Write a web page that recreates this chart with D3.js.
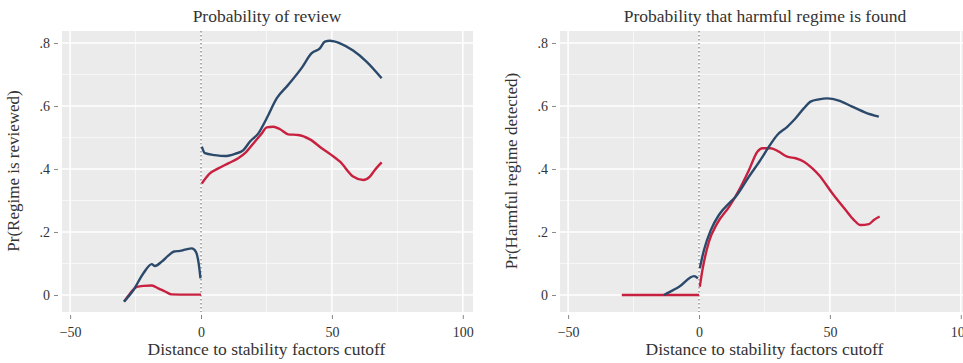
<!DOCTYPE html>
<html>
<head>
<meta charset="utf-8">
<script src="https://cdn.jsdelivr.net/npm/d3@7"></script>
<style>
  body { margin: 0; background: #fff; }
  svg text { font-family: "Liberation Serif", "DejaVu Serif", serif; fill: #333; }
</style>
</head>
<body>
<svg id="chart" width="963" height="363"></svg>
<script>
// panel titles / axis labels
const titles = ["Probability of review", "Probability that harmful regime is found"]
const yTitles = ["Pr(Regime is reviewed)", "Pr(Harmful regime detected)"]
const xTitle = "Distance to stability factors cutoff"
const xTicks = [-50, 0, 50, 100]
const yTicks = [0, .2, .4, .6, .8]

// left panel, blue series (below / above cutoff)
const reviewBluePre = [[-29.4,-0.021],[-25.8,0.016],[-22,0.069],[-18.8,0.098],[-17.6,0.092],[-15,0.106],
  [-12.5,0.125],[-10.3,0.138],[-8,0.14],[-5.7,0.145],[-3.5,0.148],[-2,0.138],[-0.8,0.095],[-0.2,0.053]]
const reviewBluePost = [[0.3,0.471],[1.5,0.45],[5.3,0.444],[9.2,0.441],[13,0.448],[16.2,0.46],[18.7,0.487],
  [21.9,0.513],[25.1,0.561],[28.9,0.624],[33.3,0.667],[38.4,0.72],[42.2,0.767],[45.4,0.783],[47.3,0.804],
  [49.2,0.807],[53.1,0.799],[58.1,0.776],[63.2,0.741],[69,0.688]]
// left panel, red series
const reviewRedPre = [[-29.4,-0.021],[-27.1,0.005],[-24.5,0.026],[-22,0.029],[-18.8,0.03],[-16.3,0.021],
  [-13.7,0.011],[-11.2,0.002],[-5,0.001],[0,0.001]]
const reviewRedPost = [[0.3,0.354],[3.4,0.386],[6.6,0.402],[10.4,0.418],[14.2,0.434],[16.8,0.45],[20,0.481],
  [23.2,0.513],[25.1,0.532],[27.6,0.534],[30.2,0.526],[33.3,0.51],[37.1,0.508],[41.6,0.494],[46.1,0.466],
  [49.9,0.444],[53.1,0.423],[58.1,0.376],[62,0.365],[64.5,0.376],[66.4,0.397],[69,0.421]]

// right panel, blue series
const foundBluePre = [[-13.4,0],[-12.7,0.003],[-7.6,0.026],[-1.9,0.06],[-0.4,0.053]]
const foundBluePost = [[0.3,0.085],[1.9,0.143],[4.5,0.206],[7.6,0.254],[11.5,0.291],[14,0.312],[19.1,0.376],
  [23.5,0.429],[26.7,0.471],[29.9,0.508],[33.7,0.534],[36.9,0.561],[40.1,0.593],[42.6,0.614],[45.8,0.621],
  [49,0.624],[53.4,0.617],[58.5,0.598],[63.6,0.579],[68.7,0.566]]
// right panel, red series
const foundRedPre = [[-29.5,0],[-15,0],[0,0]]
const foundRedPost = [[0.3,0.026],[1.3,0.079],[3.8,0.169],[7,0.228],[11.5,0.28],[15.3,0.333],[19.1,0.397],
  [22.3,0.455],[24.2,0.466],[27.4,0.466],[30.5,0.455],[33.7,0.439],[36.9,0.434],[40.1,0.423],[43.3,0.402],
  [45.8,0.381],[50.9,0.323],[56,0.27],[59.2,0.238],[61.7,0.222],[64.9,0.225],[66.8,0.238],[69,0.249]]

const blue = "#2b4a6b", red = "#c8203f"
const svg = d3.select("#chart")

function panel(offset, idx, blues, reds) {
  const x = d3.scaleLinear().domain([-53.1, 103.9]).range([62 + offset, 473 + offset])
  const y = d3.scaleLinear().domain([-0.054, 0.838]).range([312, 31])
  const g = svg.append("g")

  g.append("rect")
    .attr("x", x.range()[0]).attr("y", 31)
    .attr("width", x.range()[1] - x.range()[0]).attr("height", 281)
    .attr("fill", "#ebebeb")

  // minor grid
  g.selectAll(".gxm").data(d3.range(-25, 101, 50)).join("line")
    .attr("x1", d => x(d)).attr("x2", d => x(d)).attr("y1", 31).attr("y2", 312)
    .attr("stroke", "#fff").attr("stroke-width", 0.8).attr("opacity", 0.8)
  g.selectAll(".gym").data(d3.range(0.1, 0.8, 0.2)).join("line")
    .attr("y1", d => y(d)).attr("y2", d => y(d)).attr("x1", x.range()[0]).attr("x2", x.range()[1])
    .attr("stroke", "#fff").attr("stroke-width", 0.8).attr("opacity", 0.8)
  // major grid
  g.selectAll(".gx").data(xTicks).join("line")
    .attr("x1", d => x(d)).attr("x2", d => x(d)).attr("y1", 31).attr("y2", 312)
    .attr("stroke", "#fff").attr("stroke-width", 1.5)
  g.selectAll(".gy").data(yTicks).join("line")
    .attr("y1", d => y(d)).attr("y2", d => y(d)).attr("x1", x.range()[0]).attr("x2", x.range()[1])
    .attr("stroke", "#fff").attr("stroke-width", 1.5)

  // cutoff line
  g.append("line")
    .attr("x1", x(0)).attr("x2", x(0)).attr("y1", 31).attr("y2", 312)
    .attr("stroke", "#777").attr("stroke-width", 1.2).attr("stroke-dasharray", "1.5,2.5")

  const line = d3.line().x(d => x(d[0])).y(d => y(d[1])).curve(d3.curveMonotoneX)
  reds.concat(blues).forEach((s, i) => {
    g.append("path").datum(s)
      .attr("d", line).attr("fill", "none")
      .attr("stroke", i < reds.length ? red : blue)
      .attr("stroke-width", 2.4).attr("stroke-linejoin", "round")
  })

  const xAxis = d3.axisBottom(x).tickValues(xTicks).tickSize(4).tickPadding(8).tickFormat(d3.format("d"))
  const yAxis = d3.axisLeft(y).tickValues(yTicks).tickSize(4).tickPadding(4)
    .tickFormat(d => d === 0 ? "0" : d3.format(".1f")(d).replace(/^0/, ""))
  const gx = g.append("g").attr("transform", "translate(0,315)").call(xAxis)
  const gy = g.append("g").attr("transform", `translate(${x.range()[0] - 4},0)`).call(yAxis)
  ;[gx, gy].forEach(a => {
    a.select(".domain").remove()
    a.selectAll(".tick line").attr("stroke", "#888")
    a.selectAll("text").attr("font-size", 14).attr("fill", "#333")
      .style("font-family", '"Liberation Serif", serif')
  })

  g.append("text").attr("x", (x.range()[0] + x.range()[1]) / 2 - 1).attr("y", 355)
    .attr("text-anchor", "middle").attr("font-size", 17.5).text(xTitle)
  g.append("text").attr("x", x(0) + 66).attr("y", 22)
    .attr("text-anchor", "middle").attr("font-size", 17.5).text(titles[idx])
  g.append("text")
    .attr("transform", `translate(${x.range()[0] - 43},171) rotate(-90)`)
    .attr("text-anchor", "middle").attr("font-size", 17).text(yTitles[idx])
}

panel(0, 0, [reviewBluePre, reviewBluePost], [reviewRedPre, reviewRedPost])
panel(498, 1, [foundBluePre, foundBluePost], [foundRedPre, foundRedPost])
</script>
</body>
</html>
